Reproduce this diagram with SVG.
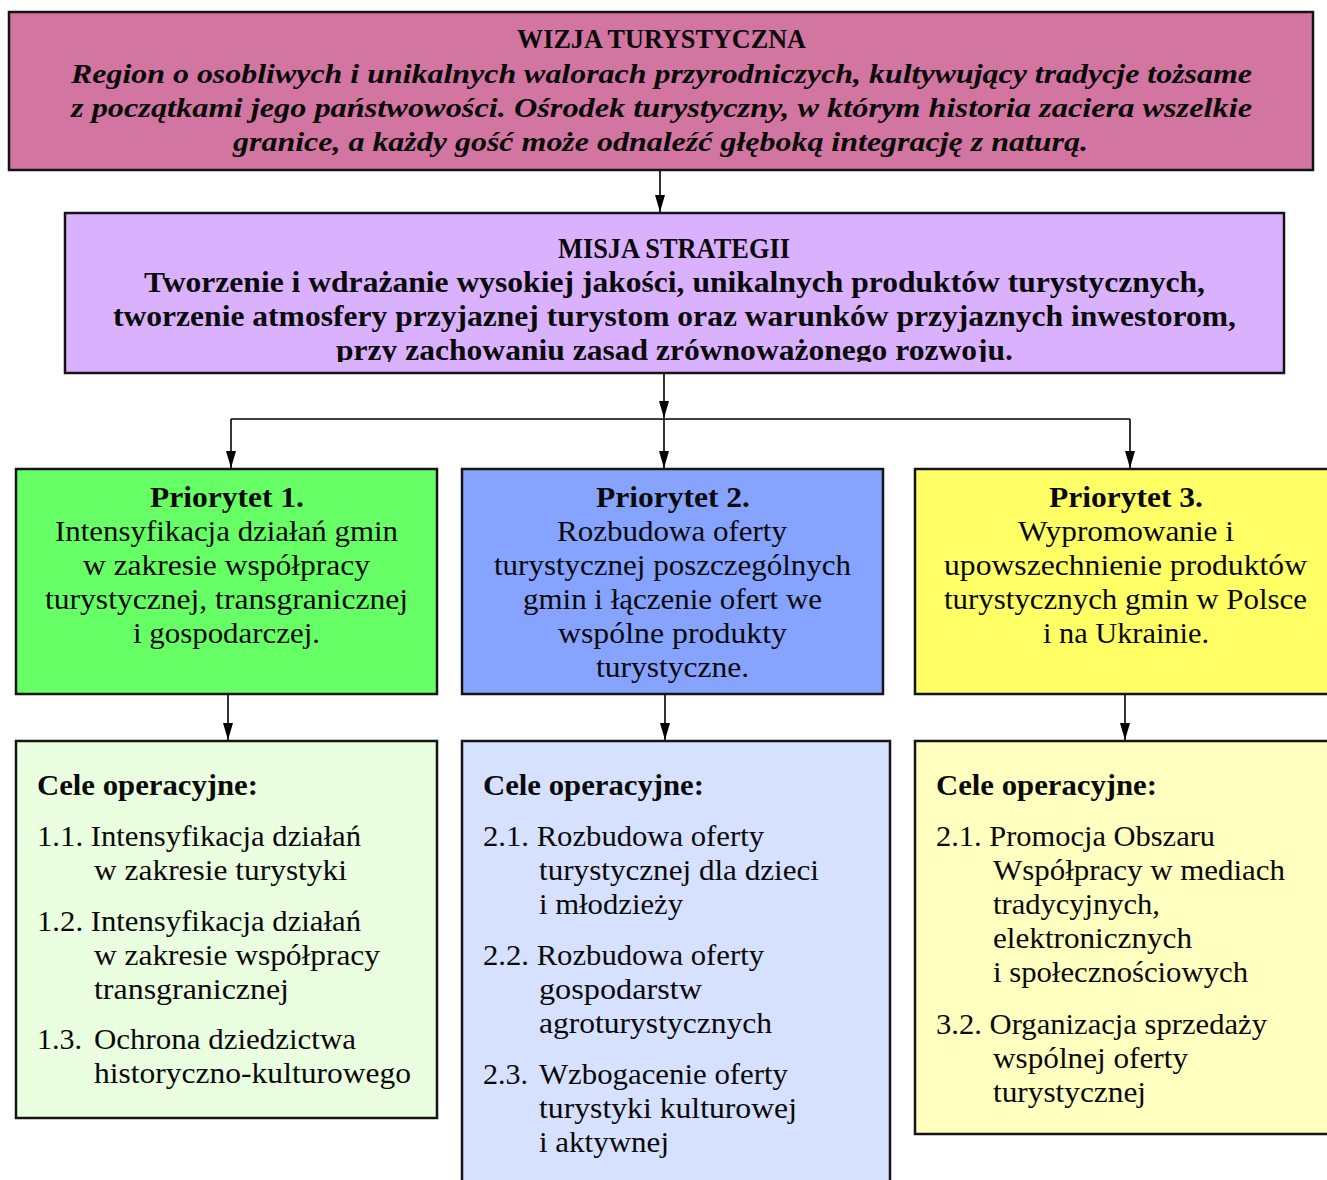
<svg xmlns="http://www.w3.org/2000/svg" width="1327" height="1180" viewBox="0 0 1327 1180">
<style>
.box{stroke:#141414;stroke-width:2.5}
.t{font-family:"Liberation Serif","Times New Roman",serif;fill:#0a0a0a}
.b{font-size:30px;font-weight:bold}
.n{font-size:30px}
.vt{font-size:27px;font-weight:bold}
.vi{font-size:27px;font-weight:bold;font-style:italic}
.mt{font-size:29px;font-weight:bold}
.c{stroke:#000;stroke-width:1.6;fill:none}
</style>
<defs>
<marker id="ah" markerUnits="userSpaceOnUse" markerWidth="18" markerHeight="10" refX="17" refY="5" orient="auto">
<path d="M0,0 L17,5 L0,10 z" fill="#000"/>
</marker>
<clipPath id="mclip"><rect x="65" y="213" width="1219" height="149"/></clipPath>
</defs>
<rect width="1327" height="1180" fill="#fff"/>

<g id="wizja">
<rect class="box" x="9" y="12" width="1304" height="158" fill="#D275A0"/>
<text class="t vt" x="517" y="48" textLength="289" lengthAdjust="spacingAndGlyphs">WIZJA TURYSTYCZNA</text>
<text class="t vi" x="71" y="83" textLength="1181" lengthAdjust="spacingAndGlyphs">Region o osobliwych i unikalnych walorach przyrodniczych, kultywujący tradycje tożsame</text>
<text class="t vi" x="71" y="117" textLength="1181" lengthAdjust="spacingAndGlyphs">z początkami jego państwowości. Ośrodek turystyczny, w którym historia zaciera wszelkie</text>
<text class="t vi" x="233" y="151" textLength="855" lengthAdjust="spacingAndGlyphs">granice, a każdy gość może odnaleźć głęboką integrację z naturą.</text>
</g>

<g id="misja">
<rect class="box" x="65" y="213" width="1219" height="160" fill="#DAB1FE"/>
<g clip-path="url(#mclip)">
<text class="t mt" x="558" y="258" textLength="232" lengthAdjust="spacingAndGlyphs">MISJA STRATEGII</text>
<text class="t mt" x="144" y="292" textLength="1061" lengthAdjust="spacingAndGlyphs">Tworzenie i wdrażanie wysokiej jakości, unikalnych produktów turystycznych,</text>
<text class="t mt" x="113" y="326" textLength="1123" lengthAdjust="spacingAndGlyphs">tworzenie atmosfery przyjaznej turystom oraz warunków przyjaznych inwestorom,</text>
<text class="t mt" x="336" y="360" textLength="677" lengthAdjust="spacingAndGlyphs">przy zachowaniu zasad zrównoważonego rozwoju.</text>
</g>
</g>

<g id="priorytet1">
<rect class="box" x="16" y="469" width="421" height="225" fill="#66FF66"/>
<text class="t b" x="150" y="507" textLength="154" lengthAdjust="spacingAndGlyphs">Priorytet 1.</text>
<text class="t n" x="55" y="541" textLength="343" lengthAdjust="spacingAndGlyphs">Intensyfikacja działań gmin</text>
<text class="t n" x="83" y="575" textLength="287" lengthAdjust="spacingAndGlyphs">w zakresie współpracy</text>
<text class="t n" x="45" y="609" textLength="363" lengthAdjust="spacingAndGlyphs">turystycznej, transgranicznej</text>
<text class="t n" x="133" y="643" textLength="187" lengthAdjust="spacingAndGlyphs">i gospodarczej.</text>
</g>

<g id="priorytet2">
<rect class="box" x="462" y="469" width="421" height="225" fill="#85A3FF"/>
<text class="t b" x="596" y="507" textLength="154" lengthAdjust="spacingAndGlyphs">Priorytet 2.</text>
<text class="t n" x="557" y="541" textLength="230" lengthAdjust="spacingAndGlyphs">Rozbudowa oferty</text>
<text class="t n" x="494" y="575" textLength="357" lengthAdjust="spacingAndGlyphs">turystycznej poszczególnych</text>
<text class="t n" x="523" y="609" textLength="299" lengthAdjust="spacingAndGlyphs">gmin i łączenie ofert we</text>
<text class="t n" x="558" y="643" textLength="229" lengthAdjust="spacingAndGlyphs">wspólne produkty</text>
<text class="t n" x="596" y="677" textLength="153" lengthAdjust="spacingAndGlyphs">turystyczne.</text>
</g>

<g id="priorytet3">
<rect class="box" x="915" y="469" width="430" height="225" fill="#FFFF66"/>
<text class="t b" x="1049" y="507" textLength="154" lengthAdjust="spacingAndGlyphs">Priorytet 3.</text>
<text class="t n" x="1018" y="541" textLength="216" lengthAdjust="spacingAndGlyphs">Wypromowanie i</text>
<text class="t n" x="944" y="575" textLength="363" lengthAdjust="spacingAndGlyphs">upowszechnienie produktów</text>
<text class="t n" x="944" y="609" textLength="363" lengthAdjust="spacingAndGlyphs">turystycznych gmin w Polsce</text>
<text class="t n" x="1043" y="643" textLength="166" lengthAdjust="spacingAndGlyphs">i na Ukrainie.</text>
</g>

<g id="cele1">
<rect class="box" x="16" y="741" width="421" height="377" fill="#EAFEE0"/>
<text class="t b" x="37" y="795" textLength="221" lengthAdjust="spacingAndGlyphs">Cele operacyjne:</text>
<text class="t n" x="37" y="846" textLength="324" lengthAdjust="spacingAndGlyphs">1.1. Intensyfikacja działań</text>
<text class="t n" x="94" y="880" textLength="253" lengthAdjust="spacingAndGlyphs">w zakresie turystyki</text>
<text class="t n" x="37" y="931" textLength="324" lengthAdjust="spacingAndGlyphs">1.2. Intensyfikacja działań</text>
<text class="t n" x="94" y="965" textLength="286" lengthAdjust="spacingAndGlyphs">w zakresie współpracy</text>
<text class="t n" x="94" y="999" textLength="195" lengthAdjust="spacingAndGlyphs">transgranicznej</text>
<text class="t n" x="37" y="1049">1.3.</text>
<text class="t n" x="94" y="1049" textLength="262" lengthAdjust="spacingAndGlyphs">Ochrona dziedzictwa</text>
<text class="t n" x="94" y="1083" textLength="317" lengthAdjust="spacingAndGlyphs">historyczno-kulturowego</text>
</g>

<g id="cele2">
<rect class="box" x="462" y="741" width="428" height="460" fill="#D6E0FF"/>
<text class="t b" x="483" y="795" textLength="221" lengthAdjust="spacingAndGlyphs">Cele operacyjne:</text>
<text class="t n" x="483" y="846" textLength="281" lengthAdjust="spacingAndGlyphs">2.1. Rozbudowa oferty</text>
<text class="t n" x="539" y="880" textLength="280" lengthAdjust="spacingAndGlyphs">turystycznej dla dzieci</text>
<text class="t n" x="539" y="914" textLength="144" lengthAdjust="spacingAndGlyphs">i młodzieży</text>
<text class="t n" x="483" y="965" textLength="281" lengthAdjust="spacingAndGlyphs">2.2. Rozbudowa oferty</text>
<text class="t n" x="539" y="999" textLength="163" lengthAdjust="spacingAndGlyphs">gospodarstw</text>
<text class="t n" x="539" y="1033" textLength="233" lengthAdjust="spacingAndGlyphs">agroturystycznych</text>
<text class="t n" x="483" y="1084">2.3.</text>
<text class="t n" x="539" y="1084" textLength="249" lengthAdjust="spacingAndGlyphs">Wzbogacenie oferty</text>
<text class="t n" x="539" y="1118" textLength="258" lengthAdjust="spacingAndGlyphs">turystyki kulturowej</text>
<text class="t n" x="539" y="1152" textLength="130" lengthAdjust="spacingAndGlyphs">i aktywnej</text>
</g>

<g id="cele3">
<rect class="box" x="915" y="741" width="430" height="393" fill="#FFFFC0"/>
<text class="t b" x="936" y="795" textLength="221" lengthAdjust="spacingAndGlyphs">Cele operacyjne:</text>
<text class="t n" x="936" y="846" textLength="279" lengthAdjust="spacingAndGlyphs">2.1. Promocja Obszaru</text>
<text class="t n" x="993" y="880" textLength="292" lengthAdjust="spacingAndGlyphs">Współpracy w mediach</text>
<text class="t n" x="993" y="914" textLength="167" lengthAdjust="spacingAndGlyphs">tradycyjnych,</text>
<text class="t n" x="993" y="948" textLength="199" lengthAdjust="spacingAndGlyphs">elektronicznych</text>
<text class="t n" x="993" y="982" textLength="255" lengthAdjust="spacingAndGlyphs">i społecznościowych</text>
<text class="t n" x="936" y="1034" textLength="331" lengthAdjust="spacingAndGlyphs">3.2. Organizacja sprzedaży</text>
<text class="t n" x="993" y="1068" textLength="195" lengthAdjust="spacingAndGlyphs">wspólnej oferty</text>
<text class="t n" x="993" y="1102" textLength="153" lengthAdjust="spacingAndGlyphs">turystycznej</text>
</g>

<g id="connectors">
<path class="c" d="M660,171 V212" marker-end="url(#ah)"/>
<path class="c" d="M664,374 V418" marker-end="url(#ah)"/>
<path class="c" d="M231,419 H1130"/>
<path class="c" d="M231,419 V468" marker-end="url(#ah)"/>
<path class="c" d="M664,419 V468" marker-end="url(#ah)"/>
<path class="c" d="M1130,419 V468" marker-end="url(#ah)"/>
<path class="c" d="M228,695 V740" marker-end="url(#ah)"/>
<path class="c" d="M665,695 V740" marker-end="url(#ah)"/>
<path class="c" d="M1125,695 V740" marker-end="url(#ah)"/>
</g>
</svg>
